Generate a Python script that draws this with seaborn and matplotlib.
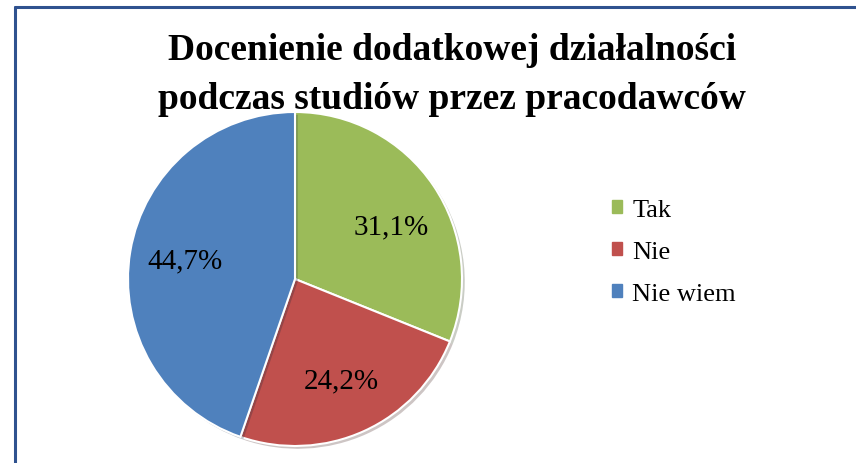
import matplotlib
matplotlib.use("Agg")
import matplotlib.pyplot as plt
import matplotlib.patheffects as pe
from matplotlib.lines import Line2D
import seaborn as sns

# data
labels = ["Tak", "Nie", "Nie wiem"]
values = [31.1, 24.2, 44.7]
colors = ["#9BBB59", "#C0504D", "#4F81BD"]
title = "Docenienie dodatkowej działalności\npodczas studiów przez pracodawców"

sns.set_theme(style="white")
plt.rcParams['font.family'] = ['Liberation Serif', 'DejaVu Serif']
plt.rcParams['text.color'] = 'black'

fig = plt.figure(figsize=(8.56, 4.64), dpi=100)
W, H = 856, 464

# frame (top and left edges only visible in the reference)
fig.add_artist(Line2D([15 / W, 1], [1 - 8 / H, 1 - 8 / H], color="#2F528F", lw=2.2))
fig.add_artist(Line2D([15 / W, 15 / W], [0, 1 - 8 / H], color="#2F528F", lw=2.2))

fig.text(452 / W, 1 - 75 / H, title, ha="center", va="center",
         fontsize=27, fontweight="bold", linespacing=1.55)

ax = fig.add_axes([128 / W, (H - 447) / H, 334 / W, 334 / H])
wedges, texts, autotexts = ax.pie(
    values, colors=colors, startangle=90, counterclock=False,
    autopct=lambda p: f"{p:.1f}%".replace(".", ","), pctdistance=0.67,
    wedgeprops=dict(edgecolor="white", linewidth=1.5),
    textprops=dict(fontsize=21, color="black"))
for w in wedges:
    w.set_path_effects([pe.SimplePatchShadow(offset=(2, -2), alpha=0.25), pe.Normal()])
x0, y0 = autotexts[0].get_position()
autotexts[0].set_position((x0 + 0.02, y0 - 0.06))
ax.set_aspect("equal")
ax.set_xlim(-1, 1)
ax.set_ylim(-1, 1)

handles = [plt.Rectangle((0, 0), 1, 1, color=c) for c in colors]
fig.legend(handles, labels, loc="center left", bbox_to_anchor=(588 / W, 1 - 253 / H),
           frameon=False, fontsize=19, handlelength=0.38, handleheight=0.38,
           handletextpad=0.4, labelspacing=0.75)

fig.savefig("out.png", dpi=100)
